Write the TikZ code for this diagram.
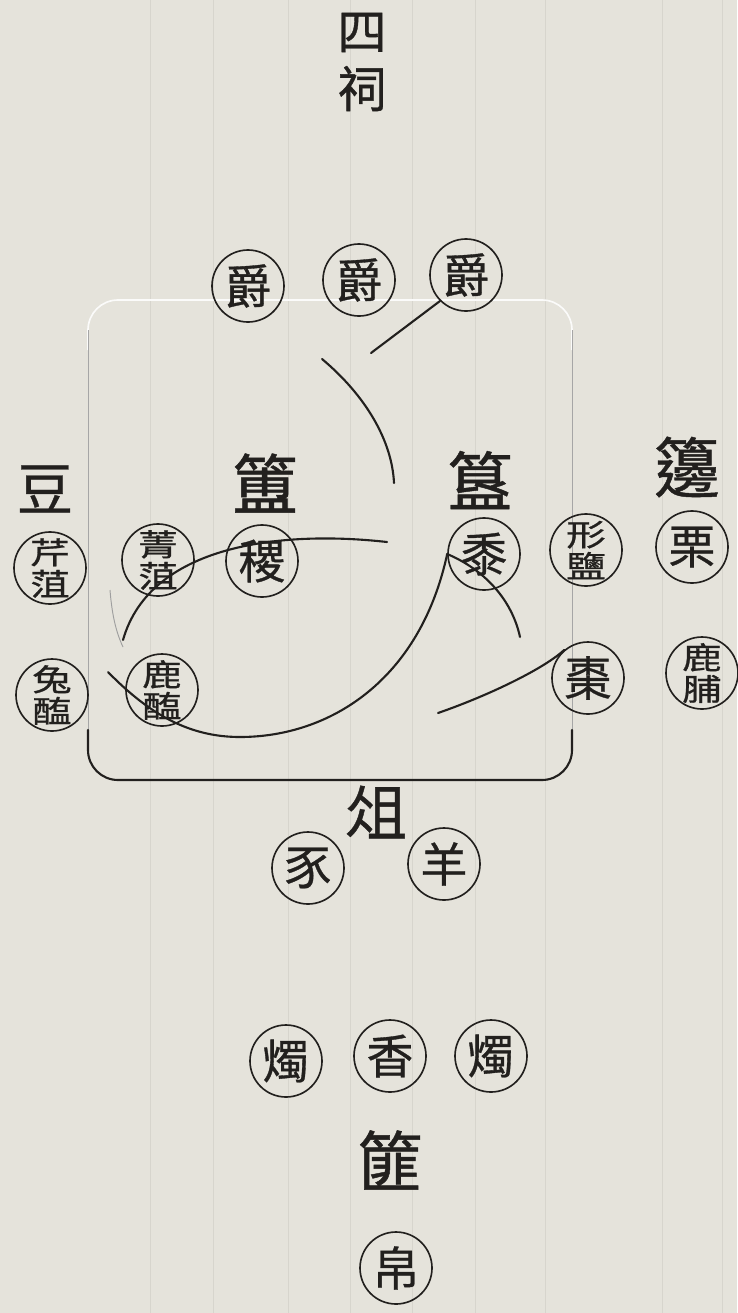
\documentclass[tikz,border=0pt]{standalone}
\usepackage{fontspec}
\newfontfamily\cjk[FakeBold=0.7]{Noto Sans CJK TC}
\usetikzlibrary{positioning}

\definecolor{paper}{RGB}{229,227,219}
\definecolor{ghost}{RGB}{215,213,205}
\definecolor{ink}{RGB}{34,32,30}

% stretch a glyph sideways, as the cut blocks do
\newcommand\widechar[1]{\scalebox{1.3}[1]{#1}}

\tikzset{
  vessel/.style={circle, draw=ink, line width=1.4pt, minimum size=21.6mm, inner sep=0pt,
    text=ink, font=\cjk\fontsize{40}{40}\selectfont},
  pairvessel/.style={vessel, align=center, font=\cjk\fontsize{26}{27}\selectfont},
  grouplabel/.style={text=ink, inner sep=0pt, font=\cjk\fontsize{56}{56}\selectfont},
  stroke/.style={ink, line width=1.8pt, line cap=round}
}

\begin{document}
\begin{tikzpicture}[x=0.3mm, y=-0.3mm]
  % page and paper
  \fill[paper] (0,0) rectangle (737,1313);
  \useasboundingbox (0,0) rectangle (737,1313);

  % faint column rules of the page
  \foreach \cx in {150,213,288,350,412,475,545,662,722}
    \draw[ghost, line width=0.8pt] (\cx,0) -- (\cx,1313);

  % frame: faint top, grey sides, dark bottom
  \draw[white!85!paper, line width=1.4pt, rounded corners=9mm]
    (88,350) -- (88,300) -- (572,300) -- (572,350);
  \draw[gray!70, line width=0.6pt] (88,330) -- (88,750);
  \draw[gray!70, line width=0.6pt] (572,330) -- (572,750);
  \draw[stroke, rounded corners=9mm] (88,730) -- (88,780) -- (572,780) -- (572,730);

  % group labels
  \node[grouplabel, align=center, font=\cjk\fontsize{42}{49}\selectfont] (sici) at (362,62) {四\\祠};
  \node[grouplabel, font=\cjk\fontsize{48}{48}\selectfont] (dou) at (45,489) {豆};
  \node[grouplabel] (fu) at (265,483) {簠};
  \node[grouplabel] (gui) at (480,480) {簋};
  \node[grouplabel] (bian) at (687,467) {籩};
  \node[grouplabel, font=\cjk\fontsize{52}{52}\selectfont] (zu) at (376,812) {俎};
  \node[grouplabel] (fei) at (390,1160) {篚};

  % jue cups
  \node[vessel] (jueA) at (248,286) {爵};
  \node[vessel] (jueB) at (359,280) {爵};
  \node[vessel] (jueC) at (466,275) {爵};

  % dou vessels
  \node[pairvessel] (qinzu) at (50,568) {\widechar{芹}\\\widechar{菹}};
  \node[pairvessel] (tuhai) at (52,695) {\widechar{兔}\\\widechar{醢}};
  \node[pairvessel] (jingzu) at (158,560) {\widechar{菁}\\\widechar{菹}};
  \node[pairvessel] (luhai) at (162,690) {\widechar{鹿}\\\widechar{醢}};

  % fu and gui
  \node[vessel] (ji) at (262,561) {稷};
  \node[vessel] (shu) at (484,554) {黍};

  % bian vessels
  \node[pairvessel] (xingyan) at (586,550) {\widechar{形}\\\widechar{鹽}};
  \node[vessel] (zao) at (588,678) {棗};
  \node[vessel] (li) at (692,547) {栗};
  \node[pairvessel] (lufu) at (702,673) {\widechar{鹿}\\\widechar{脯}};

  % zu
  \node[vessel] (shi) at (308,868) {豕};
  \node[vessel] (yang) at (444,864) {羊};

  % candles, incense, silk
  \node[vessel] (zhuA) at (286,1061) {燭};
  \node[vessel] (xiang) at (390,1056) {香};
  \node[vessel] (zhuB) at (491,1056) {燭};
  \node[vessel] (bo) at (396,1268) {帛};

  % free ends of the strokes
  \coordinate (tipA) at (371,353);
  \coordinate (arcS) at (322,359);
  \coordinate (arcE) at (394,483);
  \coordinate (swR) at (387,542);
  \coordinate (swL) at (123,640);
  \coordinate (hookS) at (110,590);
  \coordinate (hookE) at (123,647);
  \coordinate (loopL) at (108,672);
  \coordinate (loopB) at (240,737);
  \coordinate (tailE) at (520,637);
  \coordinate (riseS) at (438,713);

  % strokes across the plan
  \draw[stroke] (jueC.225) -- (tipA);
  \draw[stroke] (arcS) .. controls (365,395) and (392,440) .. (arcE);
  \draw[stroke] (swR) .. controls (280,530) and (150,545) .. (swL);
  \draw[gray!75, line width=0.8pt] (hookS) .. controls (112,615) and (116,632) .. (hookE);
  \draw[stroke] (loopL) .. controls (150,715) and (190,737) .. (loopB)
    .. controls (330,737) and (420,680) .. (shu.west);
  \draw[stroke] (shu.west) .. controls (485,570) and (512,600) .. (tailE);
  \draw[stroke] (riseS) .. controls (490,695) and (545,668) .. (zao.130);
\end{tikzpicture}
\end{document}
